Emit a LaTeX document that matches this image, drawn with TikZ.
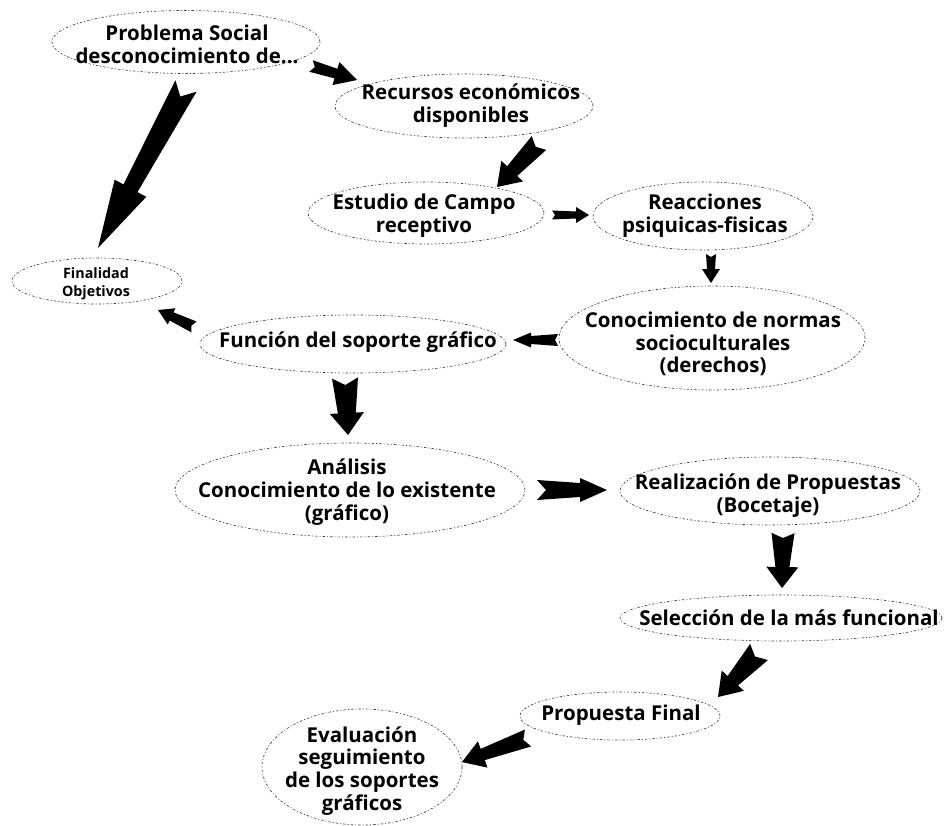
\documentclass[tikz,border=0pt]{standalone}
\usepackage{fontspec}
\setmainfont{Open Sans}
\usetikzlibrary{calc,shapes.geometric}
\tikzset{
  ell/.style={ellipse, draw=black!75, line width=0.65pt,
    dash pattern=on 2.5pt off 2pt on 1pt off 2pt, inner sep=0pt, outer sep=0pt},
  txt/.style={align=center, inner sep=0pt, font=\bfseries\fontsize{20.5}{22.8}\selectfont},
  smalltxt/.style={align=center, inner sep=0pt, font=\bfseries\fontsize{14.3}{17.5}\selectfont},
  arr/.style={fill=black, draw=none}
}
% #1 tail, #2 tip, #3 tail half width, #4 shaft half width at head, #5 head half width, #6 head length, #7 notch depth
\newcommand\barrow[7]{%
  \coordinate (hb) at ($(#2)!#6!(#1)$);
  \fill[arr] ($(#1)!#3!90:(#2)$) -- ($(hb)!#4!90:(#2)$) -- ($(hb)!#5!90:(#2)$) -- (#2)
    -- ($(hb)!#5!-90:(#2)$) -- ($(hb)!#4!-90:(#2)$) -- ($(#1)!#3!-90:(#2)$)
    -- ($(#1)!#7!(#2)$) -- cycle;
}
\begin{document}
\begin{tikzpicture}[x=1pt,y=-1pt]
\useasboundingbox (0,0) rectangle (949,826);
\fill[white] (0,0) rectangle (949,826);

% ellipses
\node[ell, minimum width=268pt, minimum height=63pt] (prob) at (186,42) {};
\node[ell, minimum width=258pt, minimum height=64pt] (recu) at (464,106) {};
\node[ell, minimum width=236pt, minimum height=62pt] (estu) at (426,213) {};
\node[ell, minimum width=220pt, minimum height=68pt] (reac) at (703,216) {};
\node[ell, minimum width=170pt, minimum height=46pt] (fina) at (97,281) {};
\node[ell, minimum width=306pt, minimum height=58pt] (func) at (353,344) {};
\node[ell, minimum width=306pt, minimum height=104pt] (cono) at (712,338) {};
\node[ell, minimum width=350pt, minimum height=94pt] (anal) at (350,490) {};
\node[ell, minimum width=300pt, minimum height=68pt] (real) at (770,491) {};
\node[ell, minimum width=322pt, minimum height=46pt] (sele) at (781,618) {};
\node[ell, minimum width=200pt, minimum height=48pt] (prop) at (620,716) {};
\node[ell, minimum width=200pt, minimum height=116pt] (eval) at (362,767) {};

% texts
\node[txt] (probt) at (187,44) {Problema Social\\desconocimiento de...};
\node[txt] (recut) at (471,106) {Recursos económicos\\disponibles};
\node[txt] (estut) at (424,216) {Estudio de Campo\\receptivo};
\node[txt] (react) at (705,216) {Reacciones\\psiquicas-fisicas};
\node[smalltxt] (finat) at (96,284) {Finalidad\\Objetivos};
\node[txt] (funct) at (358,342) {Función del soporte gráfico};
\node[txt] (conot) at (713,344) {Conocimiento de normas\\socioculturales\\(derechos)};
\node[txt] (analt) at (347,492) {Análisis\\Conocimiento de lo existente\\(gráfico)};
\node[txt] (realt) at (768,496) {Realización de Propuestas\\(Bocetaje)};
\node[txt] (selet) at (789,618) {Selección de la más funcional};
\node[txt] (propt) at (621,715) {Propuesta Final};
\node[txt] (evalt) at (362,771) {Evaluación\\seguimiento\\de los soportes\\gráficos};

% arrow end points
\coordinate (a1s) at (186,86);  \coordinate (a1e) at (98,248);
\coordinate (a2s) at (311,66);  \coordinate (a2e) at (357,80);
\coordinate (a3s) at (539,143); \coordinate (a3e) at (497,187);
\coordinate (a4s) at (552,215); \coordinate (a4e) at (589,215);
\coordinate (a5s) at (711,254); \coordinate (a5e) at (711,283);
\coordinate (a6s) at (558,340); \coordinate (a6e) at (513,340);
\coordinate (a7s) at (194,327); \coordinate (a7e) at (158,310);
\coordinate (a8s) at (345,378); \coordinate (a8e) at (348,435);
\coordinate (a9s) at (537,490); \coordinate (a9e) at (607,490);
\coordinate (a10s) at (783,533); \coordinate (a10e) at (782,588);
\coordinate (a11s) at (759,652); \coordinate (a11e) at (718,697);
\coordinate (a12s) at (528,738); \coordinate (a12e) at (462,762);

\barrow{a1s}{a1e}{12pt}{8pt}{18pt}{68pt}{12pt}
\barrow{a2s}{a2e}{6pt}{5pt}{12pt}{22pt}{4pt}
\barrow{a3s}{a3e}{10pt}{7pt}{15pt}{22pt}{5pt}
\barrow{a4s}{a4e}{4.5pt}{3.5pt}{8pt}{13pt}{3pt}
\barrow{a5s}{a5e}{5pt}{4pt}{9pt}{14pt}{3pt}
\barrow{a6s}{a6e}{6pt}{4pt}{7.5pt}{18pt}{3pt}
\barrow{a7s}{a7e}{6pt}{4.5pt}{9pt}{15pt}{3pt}
\barrow{a8s}{a8e}{13pt}{9pt}{17pt}{22pt}{7pt}
\barrow{a9s}{a9e}{10pt}{7pt}{12pt}{27pt}{9pt}
\barrow{a10s}{a10e}{11.5pt}{7pt}{16pt}{21pt}{5pt}
\barrow{a11s}{a11e}{12pt}{7pt}{15pt}{22pt}{6pt}
\barrow{a12s}{a12e}{9pt}{6pt}{14pt}{22pt}{5pt}
\end{tikzpicture}
\end{document}
